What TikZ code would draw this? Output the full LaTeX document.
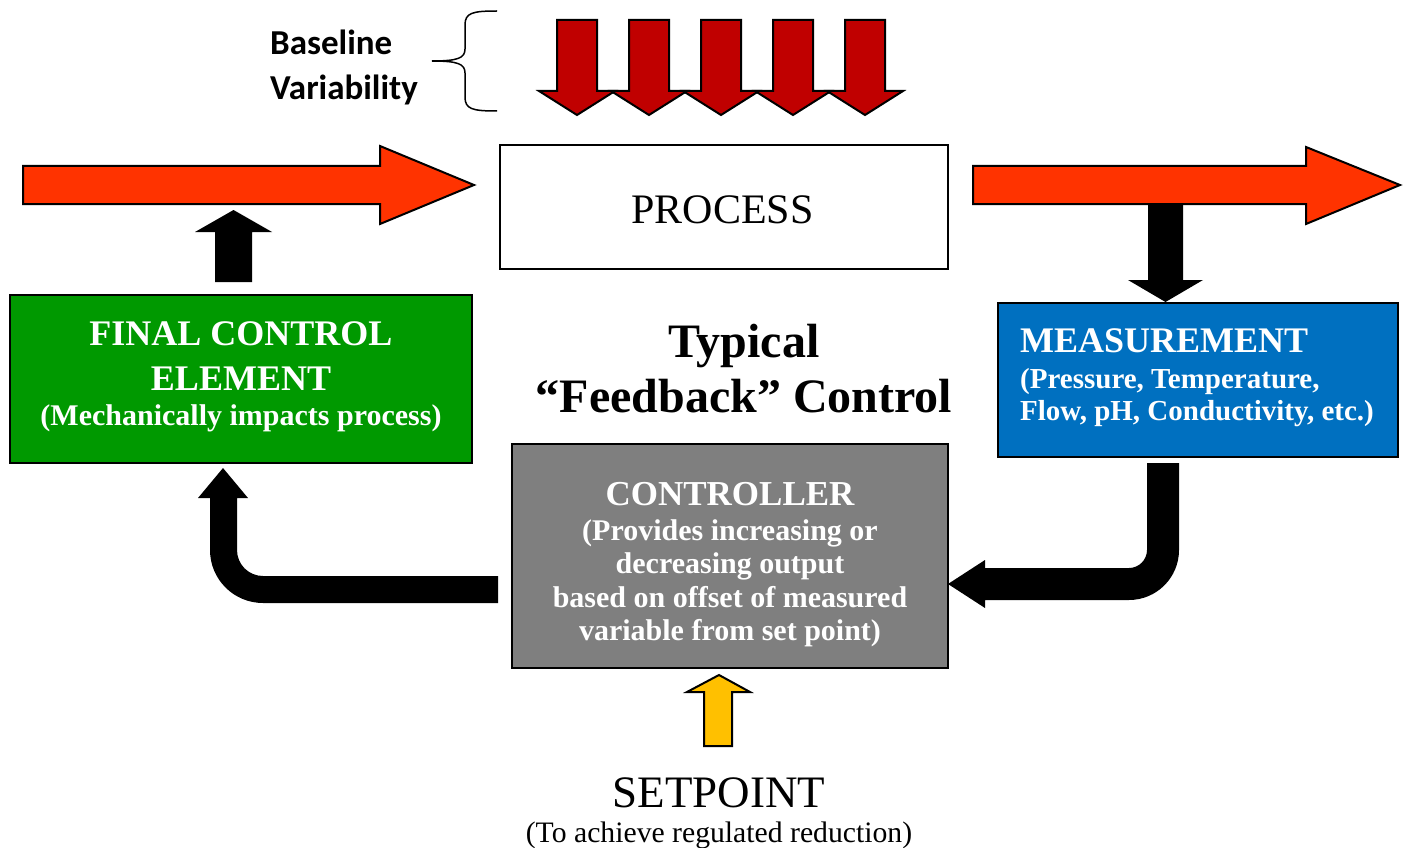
\documentclass[tikz,border=0pt]{standalone}
\usepackage{fontspec}
\setmainfont{Liberation Serif}
\newfontfamily\calib{Carlito}
\definecolor{flowred}{HTML}{FF3300}
\definecolor{varred}{HTML}{C00000}
\definecolor{fcegreen}{HTML}{009900}
\definecolor{measblue}{HTML}{0070C0}
\definecolor{ctrlgray}{HTML}{7F7F7F}
\definecolor{setyellow}{HTML}{FFC000}
\begin{document}
\begin{tikzpicture}[x=1pt,y=-1pt,
  boxsty/.style={draw=black, line width=2pt, rectangle, inner sep=0pt},
  blockarrow/.style={draw=black, line width=2pt, line join=miter},
  txt/.style={anchor=base, inner sep=0pt},
  headf/.style={font=\bfseries\fontsize{36}{40}\selectfont, text=white},
  bodyf/.style={font=\bfseries\fontsize{30}{33}\selectfont, text=white}]
\useasboundingbox (0,0) rectangle (1406,848);

% boxes
\node[boxsty, minimum width=448pt, minimum height=124pt] (process) at (724,207) {};
\node[txt, font=\fontsize{42}{46}\selectfont] (proclabel) at (722.5,223) {PROCESS};
\node[boxsty, fill=fcegreen, minimum width=462pt, minimum height=168pt] (fce) at (241,379) {};
\node[boxsty, fill=measblue, minimum width=400pt, minimum height=154pt] (meas) at (1198,380) {};
\node[boxsty, fill=ctrlgray, minimum width=436pt, minimum height=224pt] (ctrl) at (730,556) {};

% baseline variability
\node[txt, anchor=base west, font=\calib\bfseries\fontsize{35}{40}\selectfont] (bl1) at (270,55) {Baseline};
\node[txt, anchor=base west, font=\calib\bfseries\fontsize{35}{40}\selectfont] (bl2) at (270,100) {Variability};
\draw[line width=1.5pt] (497,11) .. controls (472,11) and (465,13) .. (465,25) -- (465,49)
   .. controls (465,58) and (458,61) .. (432,61)
   .. controls (458,61) and (465,64) .. (465,73) -- (465,97)
   .. controls (465,109) and (472,111) .. (497,111);

% variability arrows
\foreach \k in {0,...,4}{
  \pgfmathsetmacro{\cx}{577+72*\k}
  \filldraw[blockarrow, fill=varred] (\cx-20,20) -- (\cx+20,20) -- (\cx+20,91) -- (\cx+38,91)
     -- (\cx,115) -- (\cx-38,91) -- (\cx-20,91) -- cycle;
}

% black straight arrows
\fill (215,282) -- (252,282) -- (252,232) -- (272,232) -- (233.5,210) -- (195,232) -- (215,232) -- cycle;
\fill (1148,204) -- (1183,204) -- (1183,280) -- (1203,280) -- (1165.5,302) -- (1128,280) -- (1148,280) -- cycle;

% red flow arrows
\filldraw[blockarrow, fill=flowred] (23,166) -- (380,166) -- (380,146) -- (474,185) -- (380,224) -- (380,204) -- (23,204) -- cycle;
\filldraw[blockarrow, fill=flowred] (973,166) -- (1306,166) -- (1306,147) -- (1400,185) -- (1306,224) -- (1306,204) -- (973,204) -- cycle;

% curved arrows
\fill (498,576) -- (263,576) .. controls (248.6,576) and (237,564.4) .. (237,550) -- (237,498)
   -- (248,498) -- (223,468) -- (198,498) -- (210,498) -- (210,550)
   .. controls (210,579.3) and (233.7,603) .. (263,603) -- (498,603) -- cycle;
\fill (1147,463) -- (1179,463) -- (1179,550) .. controls (1179,577.6) and (1156.6,600) .. (1129,600)
   -- (985,600) -- (985,608) -- (948,584) -- (985,560) -- (985,568) -- (1129,568)
   .. controls (1138.9,568) and (1147,559.9) .. (1147,550) -- cycle;

% setpoint arrow
\filldraw[blockarrow, fill=setyellow] (704,746) -- (732,746) -- (732,692) -- (750,692) -- (719,675) -- (687,692) -- (704,692) -- cycle;

% FCE text
\node[txt, headf] (fce1) at (241,345) {FINAL CONTROL};
\node[txt, headf] (fce2) at (241,390) {ELEMENT};
\node[txt, bodyf] (fce3) at (241,425) {(Mechanically impacts process)};

% title
\node[txt, font=\bfseries\fontsize{48}{52}\selectfont] (t1) at (744,357) {Typical};
\node[txt, font=\bfseries\fontsize{48}{52}\selectfont] (t2) at (744,412) {“Feedback” Control};

% measurement text
\node[txt, headf, anchor=base west] (m1) at (1020,352) {MEASUREMENT};
\node[txt, bodyf, anchor=base west, font=\bfseries\fontsize{29}{33}\selectfont] (m2) at (1020,388) {(Pressure, Temperature,};
\node[txt, bodyf, anchor=base west, font=\bfseries\fontsize{29}{33}\selectfont] (m3) at (1020,420) {Flow, pH, Conductivity, etc.)};

% controller text
\node[txt, headf, font=\bfseries\fontsize{35}{40}\selectfont] (c1) at (730,505) {CONTROLLER};
\node[txt, bodyf] (c2) at (730,540) {(Provides increasing or};
\node[txt, bodyf] (c3) at (730,573) {decreasing output};
\node[txt, bodyf] (c4) at (730,607) {based on offset of measured};
\node[txt, bodyf] (c5) at (730,640) {variable from set point)};

% setpoint text
\node[txt, font=\fontsize{45}{50}\selectfont] (sp1) at (719,807) {SETPOINT};
\node[txt, font=\fontsize{29.7}{33}\selectfont] (sp2) at (719,842) {(To achieve regulated reduction)};
\end{tikzpicture}
\end{document}
